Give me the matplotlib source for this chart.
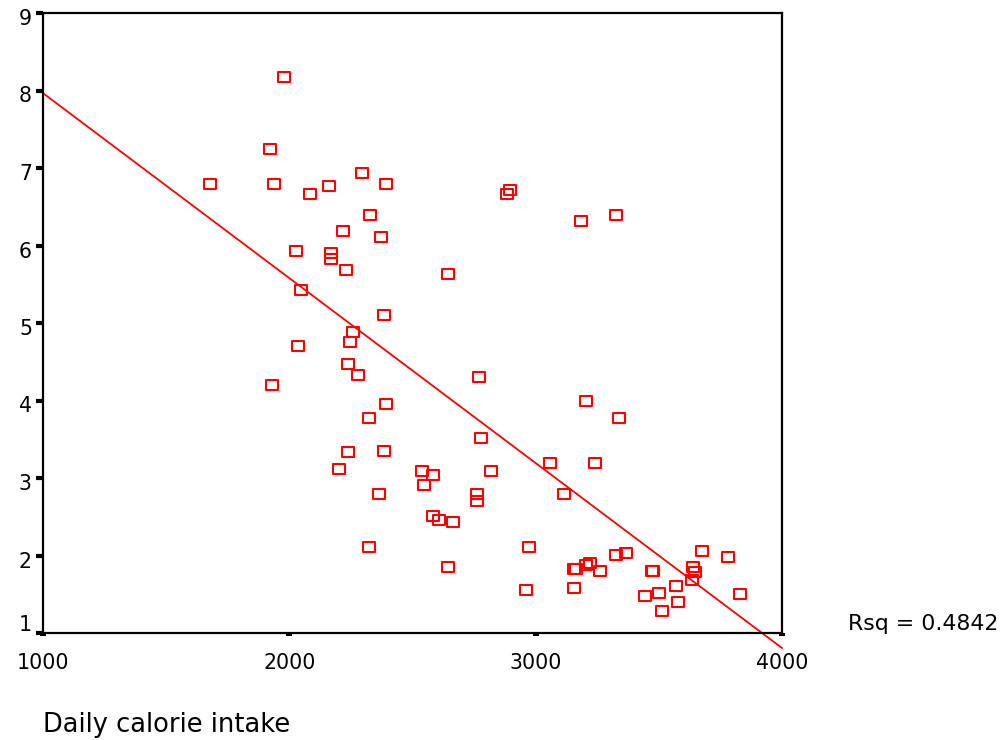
#LIBRERIAS
import numpy as np                      #Manejos de arreglos
import matplotlib
matplotlib.use("Agg")
import matplotlib.pyplot as plt         #Manejos de creacion de graficas
from matplotlib.path import Path
from matplotlib.transforms import ScaledTranslation

# Datos (calorias diarias vs valor)
calorias = [1678, 1979, 1920, 1939, 2085, 2162, 2296, 2394, 2326, 2219,
            2373, 2026, 2170, 2170, 2231, 2046, 2384, 2258, 2248, 2035,
            2239, 2279, 1930, 2394, 2325, 2384, 2239, 2200, 2364, 2325,
            2894, 2884, 3183, 3328, 2644, 2768, 3204, 3339, 2779, 3059,
            3241, 2538, 2585, 2817, 2547, 3116, 2760, 2760, 2585, 2606,
            2663, 2971, 2644, 2962, 3155, 3155, 3163, 3204, 3221, 3261,
            3328, 3367, 3444, 3478, 3472, 3501, 3512, 3570, 3578, 3638,
            3647, 3636, 3674, 3782, 3830]
valores = [6.79, 8.17, 7.24, 6.79, 6.66, 6.77, 6.93, 6.79, 6.40, 6.19,
           6.11, 5.93, 5.90, 5.82, 5.68, 5.42, 5.10, 4.89, 4.75, 4.70,
           4.47, 4.33, 4.20, 3.96, 3.78, 3.35, 3.33, 3.12, 2.80, 2.11,
           6.71, 6.67, 6.32, 6.40, 5.63, 4.30, 3.99, 3.78, 3.51, 3.20,
           3.20, 3.09, 3.04, 3.09, 2.91, 2.80, 2.80, 2.70, 2.51, 2.46,
           2.43, 2.11, 1.85, 1.55, 1.58, 1.83, 1.83, 1.88, 1.90, 1.80,
           2.01, 2.03, 1.48, 1.80, 1.80, 1.51, 1.29, 1.61, 1.40, 1.85,
           1.79, 1.68, 2.06, 1.98, 1.50]
xticks = [1000, 2000, 3000, 4000]
yticks = [1, 2, 3, 4, 5, 6, 7, 8, 9]
rsq_texto = "Rsq = 0.4842"
etiqueta_x = "Daily calorie intake"

rojo = "#FF0000"
fig = plt.figure(figsize=(10.05, 7.4), dpi=100)
W, H = 1005, 740
ax = fig.add_axes([43 / W, 1 - 633 / H, (782 - 43) / W, (633 - 13) / H])

#Marcador rectangular hueco (un poco mas ancho que alto)
caja = Path([(-0.55, -0.45), (0.55, -0.45), (0.55, 0.45), (-0.55, 0.45), (-0.55, -0.45)],
            [Path.MOVETO, Path.LINETO, Path.LINETO, Path.LINETO, Path.CLOSEPOLY])
ax.plot(calorias, valores, linestyle="none", marker=caja, markersize=8,
        markerfacecolor="none", markeredgecolor=rojo, markeredgewidth=1.5, zorder=3)

#Recta de regresion calculada con los datos
m, b = np.polyfit(calorias, valores, 1)
xr = np.array([1000, 4000])
ax.plot(xr, m * xr + b, color=rojo, linewidth=1.3, clip_on=False, zorder=2)

#Ejes y marcas
ax.set_xlim(1000, 4000)
ax.set_ylim(1, 9)
ax.set_xticks(xticks)
ax.set_yticks(yticks)
for s in ax.spines.values():
    s.set_linewidth(1.6)
    s.set_color("black")
ax.tick_params(axis="y", direction="out", length=5, width=3, pad=3, labelsize=14.8)
ax.tick_params(axis="x", direction="out", length=2.5, width=4.3, pad=12, labelsize=14.8)

#Pequeno desplazamiento de las etiquetas del eje y
for t, v in zip(ax.get_yticklabels(), yticks):
    dy = 10 if v == 1 else -4
    t.set_transform(t.get_transform() + ScaledTranslation(0, dy / 100, fig.dpi_scale_trans))

#Textos
fig.text(848 / W, 1 - 630 / H, rsq_texto, fontsize=15.8, va="baseline", ha="left")
fig.text(43 / W, 1 - 732 / H, etiqueta_x, fontsize=18.5, va="baseline", ha="left")

plt.savefig("out.png", dpi=100)
